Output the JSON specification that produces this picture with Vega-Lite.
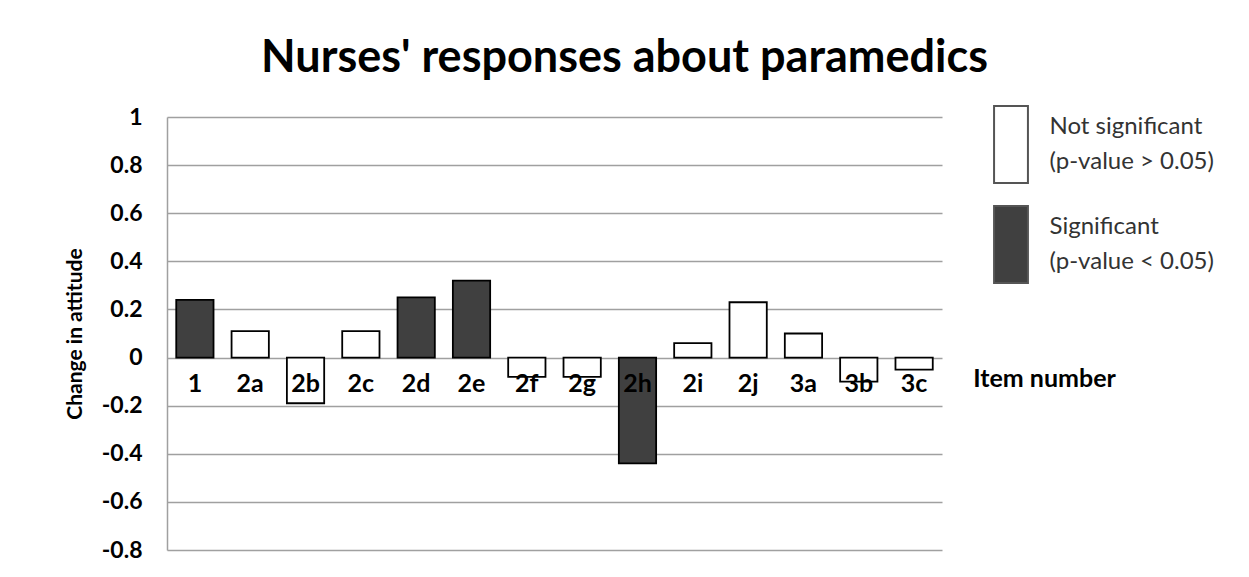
{
  "$schema": "https://vega.github.io/schema/vega-lite/v6.json",
  "width": 775,
  "height": 433,
  "autosize": "none",
  "padding": {"left": 167, "top": 117, "right": 307, "bottom": 27},
  "background": "white",
  "title": {
    "text": "Nurses' responses about paramedics",
    "font": "Lato",
    "fontSize": 45,
    "fontWeight": "bold",
    "color": "#000000",
    "anchor": "middle",
    "dx": 70,
    "offset": 24
  },
  "data": {
    "values": [
      {"item": "1", "change": 0.24, "sig": "Significant"},
      {"item": "2a", "change": 0.11, "sig": "Not significant"},
      {"item": "2b", "change": -0.19, "sig": "Not significant"},
      {"item": "2c", "change": 0.11, "sig": "Not significant"},
      {"item": "2d", "change": 0.25, "sig": "Significant"},
      {"item": "2e", "change": 0.32, "sig": "Significant"},
      {"item": "2f", "change": -0.08, "sig": "Not significant"},
      {"item": "2g", "change": -0.08, "sig": "Not significant"},
      {"item": "2h", "change": -0.44, "sig": "Significant"},
      {"item": "2i", "change": 0.06, "sig": "Not significant"},
      {"item": "2j", "change": 0.23, "sig": "Not significant"},
      {"item": "3a", "change": 0.10, "sig": "Not significant"},
      {"item": "3b", "change": -0.10, "sig": "Not significant"},
      {"item": "3c", "change": -0.05, "sig": "Not significant"}
    ]
  },
  "config": {
    "view": {"stroke": null},
    "font": "Lato",
    "style": {"guide-label": {"lineHeight": 35}}
  },
  "encoding": {
    "x": {
      "field": "item",
      "type": "nominal",
      "sort": null,
      "scale": {"paddingInner": 0.326, "paddingOuter": 0.167},
      "axis": {
        "labels": false,
        "ticks": false,
        "domain": false,
        "grid": false,
        "title": "Item number",
        "titleFont": "Lato",
        "titleFontSize": 25,
        "titleFontWeight": "bold",
        "titleColor": "#000000",
        "titleAnchor": "middle",
        "titleAlign": "center",
        "titleBaseline": "middle",
        "titleX": 877,
        "titleY": -172
      }
    }
  },
  "layer": [
    {
      "mark": {"type": "bar", "stroke": "#000000", "strokeWidth": 1.8},
      "encoding": {
        "y": {
          "field": "change",
          "type": "quantitative",
          "scale": {"domain": [-0.8, 1], "nice": false, "zero": false},
          "axis": {
            "title": "Change in attitude",
            "titleFont": "Lato",
            "titleFontSize": 21,
            "titleFontWeight": "bold",
            "titleColor": "#000000",
            "titlePadding": 16,
            "values": [-0.8, -0.6, -0.4, -0.2, 0, 0.2, 0.4, 0.6, 0.8, 1],
            "labelExpr": "'' + datum.value",
            "labelFont": "Lato",
            "labelFontSize": 23,
            "labelFontWeight": "bold",
            "labelColor": "#000000",
            "labelPadding": 25,
            "ticks": false,
            "domainColor": "#a0a0a0",
            "domainWidth": 1.5,
            "gridColor": "#a0a0a0",
            "gridWidth": 1.3,
            "gridOpacity": 1
          }
        },
        "fill": {
          "field": "sig",
          "type": "nominal",
          "scale": {"domain": ["Not significant", "Significant"], "range": ["#ffffff", "#404040"]},
          "legend": {
            "orient": "none",
            "legendX": 804.5,
            "legendY": -12,
            "title": null,
            "symbolType": "M-0.44,-1V1H0.44V-1Z",
            "symbolSize": 5929,
            "symbolStrokeColor": "#555555",
            "symbolStrokeWidth": 2,
            "labelFont": "Lato",
            "labelFontSize": 24,
            "labelColor": "#333333",
            "labelOffset": -1,
            "labelLimit": 300,
            "labelBaseline": "line-bottom",
            "rowPadding": 15,
            "labelExpr": "datum.label == 'Significant' ? ['Significant', '(p-value < 0.05)'] : ['Not significant', '(p-value > 0.05)']"
          }
        }
      }
    },
    {
      "mark": {"type": "text", "font": "Lato", "fontSize": 25, "fontWeight": "bold", "baseline": "middle", "color": "#000000"},
      "encoding": {
        "text": {"field": "item"},
        "y": {"datum": -0.112}
      }
    }
  ]
}
